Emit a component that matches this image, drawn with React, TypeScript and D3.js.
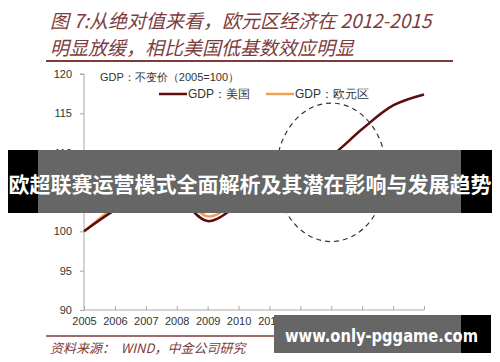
import React, { useRef, useEffect } from 'react';
import * as d3 from 'd3';

const years = [2005, 2006, 2007, 2008, 2009, 2010, 2011, 2012, 2013, 2014, 2015, 2016];
const usGdp = [100, 102.7, 104.6, 104.3, 101.3, 103.3, 105.1, 107.4, 109.6, 113.0, 116.0, 117.4];
const euGdp = [100, 103.1, 105.3, 105.5, 101.9, 103.8, 105.2, 104.9, 104.5, 105.7, 108.3, 110.1];
const yTicks = [90, 95, 100, 105, 110, 115, 120];

const titleLines = ['图 7:从绝对值来看，欧元区经济在 2012-2015', '明显放缓，相比美国低基数效应明显'];

const W = 500;
const H = 362;

const App = () => {
  const svgRef = useRef<SVGSVGElement>(null);

  useEffect(() => {
    const svg = d3.select(svgRef.current);
    svg.selectAll('*').remove();

    const x = d3.scaleLinear().domain([2005, 2016]).range([84, 424]);
    const y = d3.scaleLinear().domain([90, 120]).range([310, 74]);
    const axisColor = '#a8a8a8';
    const font = '"Liberation Sans", Arial, sans-serif';
    const cjk = '"Noto Sans CJK SC", sans-serif';
    const brown = '#7d3c3c';

    svg.append('rect').attr('width', W).attr('height', H).attr('fill', '#fff');

    // title
    titleLines.forEach((t, i) => {
      svg.append('text')
        .attr('x', 50).attr('y', 28 + i * 27)
        .attr('font-family', cjk).attr('font-size', 19)
        .attr('font-style', 'italic')
        .attr('fill', brown)
        .text(t);
    });
    svg.append('line').attr('x1', 46).attr('x2', 453).attr('y1', 61).attr('y2', 61)
      .attr('stroke', brown).attr('stroke-width', 2);

    // y axis
    const yAxis = svg.append('g')
      .attr('transform', 'translate(84,0)')
      .call(d3.axisLeft(y).tickValues(yTicks).tickSize(4).tickPadding(8));
    yAxis.select('.domain').attr('stroke', axisColor).attr('d', `M-4,${y(120)}H0V${y(90)}`);
    yAxis.selectAll('.tick line').attr('stroke', axisColor);
    yAxis.selectAll('.tick text').attr('font-family', font).attr('font-size', 11).attr('fill', '#333');

    // x axis
    const xAxis = svg.append('g')
      .attr('transform', `translate(0,${y(90)})`)
      .call(d3.axisBottom(x).tickValues(years).tickFormat(d3.format('d')).tickSize(-4).tickPadding(7));
    xAxis.select('.domain').attr('stroke', axisColor).attr('d', `M${x(2005)},0H${x(2016)}`);
    xAxis.selectAll('.tick line').attr('stroke', axisColor);
    xAxis.selectAll('.tick text').attr('font-family', font).attr('font-size', 11).attr('fill', '#333');

    const line = d3.line<number>()
      .x((d, i) => x(years[i]))
      .y(d => y(d))
      .curve(d3.curveCatmullRom.alpha(0.5));

    svg.append('path').datum(euGdp)
      .attr('fill', 'none').attr('stroke', '#f0a050').attr('stroke-width', 2.5)
      .attr('d', line);
    svg.append('path').datum(usGdp)
      .attr('fill', 'none').attr('stroke', '#5e0c0c').attr('stroke-width', 2.5)
      .attr('d', line);

    // dashed ellipse
    svg.append('ellipse')
      .attr('cx', x(2013)).attr('cy', y(107.5))
      .attr('rx', x(2014.78) - x(2013)).attr('ry', y(98.7) - y(107.5))
      .attr('fill', 'none').attr('stroke', '#333').attr('stroke-width', 1.2)
      .attr('stroke-dasharray', '5,4');

    // legend
    const lg = svg.append('g');
    lg.append('text').attr('x', 100).attr('y', 81)
      .attr('font-family', font).attr('font-size', 11).attr('fill', '#333')
      .text('GDP：不变价（2005=100）');
    const items = [
      { label: 'GDP：美国', color: '#5e0c0c', x0: 159 },
      { label: 'GDP：欧元区', color: '#f0a050', x0: 266 },
    ];
    items.forEach(it => {
      lg.append('line').attr('x1', it.x0).attr('x2', it.x0 + 28).attr('y1', 94).attr('y2', 94)
        .attr('stroke', it.color).attr('stroke-width', 2.5);
      lg.append('text').attr('x', it.x0 + 29).attr('y', 98)
        .attr('font-family', font).attr('font-size', 12).attr('fill', '#333')
        .text(it.label);
    });

    // source
    svg.append('line').attr('x1', 46).attr('x2', 453).attr('y1', 336).attr('y2', 336)
      .attr('stroke', brown).attr('stroke-width', 1.5);
    svg.append('text').attr('x', 50).attr('y', 353)
      .attr('font-family', cjk).attr('font-size', 13).attr('font-style', 'italic')
      .attr('fill', brown)
      .attr('xml:space', 'preserve')
      .text('资料来源：  WIND，中金公司研究');

    // overlay banner
    svg.append('rect').attr('x', 8).attr('y', 150).attr('width', 484).attr('height', 63).attr('fill', '#000');
    svg.append('rect').attr('x', 38).attr('y', 150).attr('width', 423).attr('height', 63)
      .attr('fill', '#666');
    svg.append('text').attr('x', 250).attr('y', 192)
      .attr('text-anchor', 'middle')
      .attr('font-family', cjk).attr('font-size', 21).attr('font-weight', 'bold')
      .attr('fill', '#fff')
      .text('欧超联赛运营模式全面解析及其潜在影响与发展趋势');

    // bottom banner
    svg.append('rect').attr('x', 274).attr('y', 315).attr('width', 217).attr('height', 38).attr('fill', '#000');
    svg.append('rect').attr('x', 274).attr('y', 315).attr('width', 187).attr('height', 38).attr('fill', '#666');
    svg.append('text').attr('x', 285).attr('y', 342)
      .attr('font-family', '"DejaVu Sans", sans-serif').attr('font-size', 17).attr('font-weight', 'bold')
      .attr('textLength', 193).attr('lengthAdjust', 'spacingAndGlyphs')
      .attr('fill', '#fff')
      .text('www.only-pggame.com');
  }, []);

  return (
    <svg ref={svgRef} width={W} height={H} style={{ position: 'absolute', left: 0, top: 0 }} />
  );
};

export default App;
